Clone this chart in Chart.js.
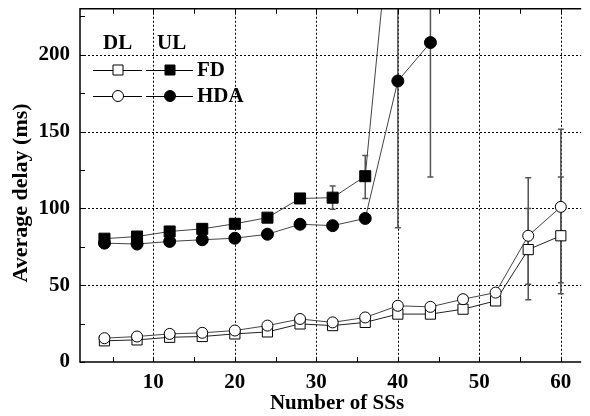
<!DOCTYPE html>
<html>
<head>
<meta charset="utf-8">
<script src="https://cdn.jsdelivr.net/npm/chart.js@4.4.0/dist/chart.umd.min.js"></script>
<style>
  html, body { margin: 0; padding: 0; background: #fff; }
  #wrap { width: 590px; height: 416px; }
</style>
</head>
<body>
<div id="wrap"><canvas id="delay_chart"></canvas></div>
<script>
// number of SSs
const ssCounts = [4, 8, 12, 16, 20, 24, 28, 32, 36, 40, 44, 48, 52, 56, 60];

// average delay (ms)
const dlFd  = [13.8, 14.4, 16.1, 16.6, 18.3, 19.6, 24.8, 23.7, 25.8, 31.2, 31.2, 34.4, 39.8, 73.2, 82.2];
const dlHda = [15.5, 16.6, 18.3, 19.0, 20.5, 23.7, 28.0, 25.8, 29.0, 36.6, 35.9, 40.9, 45.2, 82.2, 101.0];
const ulFd  = [80.3, 81.7, 85.0, 86.7, 90.0, 94.0, 106.5, 107.0, 121.0, 340.0];
const ulHda = [77.4, 76.8, 78.5, 79.6, 80.6, 83.2, 89.7, 88.8, 93.5, 183.0, 208.0];

// error bars (low / high), null = none
const dlFdLo  = [null, null, null, null, null, null, null, null, null, null, null, null, null, 40.5, 44.5];
const dlFdHi  = [null, null, null, null, null, null, null, null, null, null, null, null, null, 100.0, 120.5];
const dlHdaLo = [null, null, null, null, null, null, null, null, null, null, null, null, null, 50.6, 51.6];
const dlHdaHi = [null, null, null, null, null, null, null, null, null, null, null, null, null, 120.0, 151.6];
const ulFdLo  = [null, null, null, null, null, null, null, 99.4, 106.5, null];
const ulFdHi  = [null, null, null, null, null, null, null, 114.6, 134.5, null];
const ulHdaLo = [null, null, null, null, null, null, null, null, null, 87.5, 120.5];
const ulHdaHi = [null, null, null, null, null, null, null, null, null, 278.5, 295.5];

const xTicks = [10, 20, 30, 40, 50, 60];
const xMinor = [5, 15, 25, 35, 45, 55];
const yTicks = [0, 50, 100, 150, 200];
const yMinor = [25, 75, 125, 175, 225];

const SERIF = '"Liberation Serif", "DejaVu Serif", serif';
const FONT = 'bold 21px ' + SERIF;

function pts(ys) {
    return ys.map((y, i) => ({ x: ssCounts[i], y: y }));
}

function noPad(s) {
    s.paddingTop = 0; s.paddingBottom = 0;
    s.paddingLeft = 0; s.paddingRight = 0;
}

const errorSets = [
    [dlFdLo, dlFdHi], [dlHdaLo, dlHdaHi], [ulFdLo, ulFdHi], [ulHdaLo, ulHdaHi]
];

const paperPlugin = {
    id: 'paper',
    beforeDatasetsDraw(chart) {
        const ctx = chart.ctx, a = chart.chartArea;
        const xs = chart.scales.x, ys = chart.scales.y;
        ctx.save();
        // dotted grid
        ctx.strokeStyle = '#000';
        ctx.lineWidth = 1;
        ctx.setLineDash([2, 2]);
        xTicks.forEach(v => {
            const px = Math.round(xs.getPixelForValue(v)) + 0.5;
            ctx.beginPath(); ctx.moveTo(px, a.top); ctx.lineTo(px, a.bottom); ctx.stroke();
        });
        yTicks.forEach(v => {
            if (v === 0) return;
            const py = Math.round(ys.getPixelForValue(v)) + 0.5;
            ctx.beginPath(); ctx.moveTo(a.left, py); ctx.lineTo(a.right, py); ctx.stroke();
        });
        ctx.setLineDash([]);

        // error bars
        ctx.beginPath();
        ctx.rect(a.left, a.top, a.right - a.left, a.bottom - a.top);
        ctx.clip();
        ctx.strokeStyle = '#555';
        ctx.lineWidth = 1.5;
        errorSets.forEach(([lo, hi]) => {
            lo.forEach((l, i) => {
                if (l === null) return;
                const px = xs.getPixelForValue(ssCounts[i]);
                const p1 = ys.getPixelForValue(l), p2 = ys.getPixelForValue(hi[i]);
                ctx.beginPath();
                ctx.moveTo(px, p1); ctx.lineTo(px, p2);
                ctx.moveTo(px - 3, p1); ctx.lineTo(px + 3, p1);
                ctx.moveTo(px - 3, p2); ctx.lineTo(px + 3, p2);
                ctx.stroke();
            });
        });
        ctx.restore();
    },
    afterDraw(chart) {
        const ctx = chart.ctx, a = chart.chartArea;
        const xs = chart.scales.x, ys = chart.scales.y;
        ctx.save();
        ctx.strokeStyle = '#000';
        ctx.lineWidth = 1.5;
        // frame (left, bottom, top)
        ctx.beginPath();
        ctx.moveTo(a.right, a.top); ctx.lineTo(a.left, a.top);
        ctx.lineTo(a.left, a.bottom); ctx.lineTo(a.right, a.bottom);
        ctx.stroke();
        // inward ticks
        ctx.lineWidth = 1;
        xTicks.concat(xMinor).forEach(v => {
            const px = Math.round(xs.getPixelForValue(v)) + 0.5;
            ctx.beginPath();
            ctx.moveTo(px, a.bottom); ctx.lineTo(px, a.bottom - 5);
            ctx.moveTo(px, a.top); ctx.lineTo(px, a.top + 5);
            ctx.stroke();
        });
        yTicks.concat(yMinor).forEach(v => {
            const py = Math.round(ys.getPixelForValue(v)) + 0.5;
            ctx.beginPath(); ctx.moveTo(a.left, py); ctx.lineTo(a.left + 5, py); ctx.stroke();
        });

        // axis titles
        ctx.fillStyle = '#000';
        ctx.font = FONT;
        ctx.textAlign = 'center';
        ctx.textBaseline = 'middle';
        ctx.fillText('Number of SSs', 337, 404);
        ctx.save();
        ctx.translate(21, 193);
        ctx.rotate(-Math.PI / 2);
        ctx.font = 'bold 22px ' + SERIF;
        ctx.fillText('Average delay (ms)', 0, 0);
        ctx.restore();

        // legend
        ctx.textAlign = 'left';
        ctx.fillText('DL', 103, 44);
        ctx.fillText('UL', 157, 44);
        const rows = [['FD', 70, 'rect'], ['HDA', 96, 'circle']];
        rows.forEach(([label, y, shape]) => {
            ctx.strokeStyle = '#000';
            ctx.lineWidth = 1;
            ctx.beginPath();
            ctx.moveTo(93, y + 0.5); ctx.lineTo(142, y + 0.5);
            ctx.moveTo(146, y + 0.5); ctx.lineTo(193, y + 0.5);
            ctx.stroke();
            [[118, '#fff'], [170, '#000']].forEach(([cx, fill]) => {
                ctx.fillStyle = fill;
                ctx.beginPath();
                if (shape === 'rect') ctx.rect(cx - 5, y - 5, 10, 10);
                else ctx.arc(cx, y, 5.5, 0, Math.PI * 2);
                ctx.fill();
                ctx.stroke();
            });
            ctx.fillStyle = '#000';
            ctx.fillText(label, 197, y + 1);
        });
        ctx.restore();
    }
};

const tickFont = { family: SERIF, size: 21, weight: 'bold' };

const ctx = document.getElementById('delay_chart').getContext('2d');
window.delayChart = new Chart(ctx, {
    type: 'line',
    data: {
        datasets: [
            {
                label: 'DL HDA',
                data: pts(dlHda),
                borderColor: '#444',
                borderWidth: 1,
                pointStyle: 'circle',
                pointRadius: 5.5,
                pointBackgroundColor: '#fff',
                pointBorderColor: '#000'
            },
            {
                label: 'DL FD',
                data: pts(dlFd),
                borderColor: '#222',
                borderWidth: 1,
                pointStyle: 'rect',
                pointRadius: 7.2,
                pointBackgroundColor: '#fff',
                pointBorderColor: '#000'
            },
            {
                label: 'UL HDA',
                data: pts(ulHda),
                borderColor: '#444',
                borderWidth: 1,
                pointStyle: 'circle',
                pointRadius: 6,
                pointBackgroundColor: '#000',
                pointBorderColor: '#000'
            },
            {
                label: 'UL FD',
                data: pts(ulFd),
                borderColor: '#444',
                borderWidth: 1,
                pointStyle: 'rect',
                pointRadius: 7.8,
                pointBackgroundColor: '#000',
                pointBorderColor: '#000'
            }
        ]
    },
    options: {
        responsive: true,
        maintainAspectRatio: false,
        animation: false,
        layout: { padding: { top: 5, right: 1 } },
        plugins: {
            legend: { display: false },
            tooltip: { enabled: false }
        },
        scales: {
            x: {
                type: 'linear',
                min: 1,
                max: 62.5,
                afterBuildTicks: s => { s.ticks = xTicks.map(v => ({ value: v })); },
                afterFit: s => { s.height = 54; noPad(s); },
                grid: { display: false, drawTicks: false },
                border: { display: false },
                ticks: { color: '#000', font: tickFont, padding: 8, maxRotation: 0 }
            },
            y: {
                min: 0,
                max: 230,
                afterBuildTicks: s => { s.ticks = yTicks.map(v => ({ value: v })); },
                afterFit: s => { s.width = 80; noPad(s); },
                grid: { display: false, drawTicks: false },
                border: { display: false },
                ticks: { color: '#000', font: tickFont, padding: 10 }
            }
        }
    },
    plugins: [paperPlugin]
});
</script>
</body>
</html>
